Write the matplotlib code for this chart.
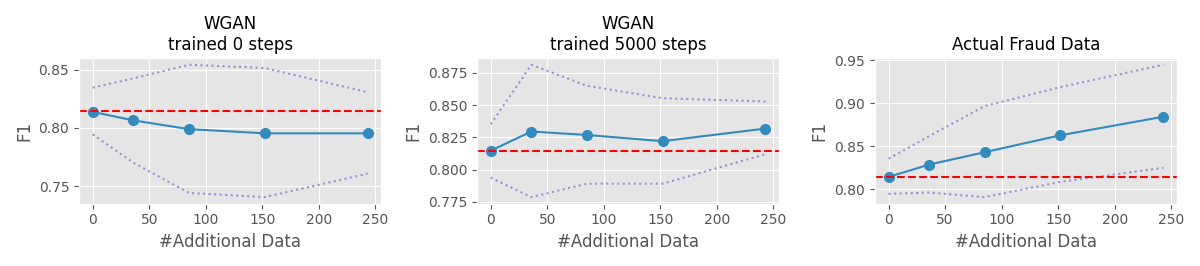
import numpy as np
import matplotlib
matplotlib.use("Agg")
import matplotlib.pyplot as plt

plt.style.use('ggplot')

# number of additional samples
n_add = [0, 36, 85, 152, 243]
baseline_f1 = 0.8143

titles = ['WGAN\ntrained 0 steps', 'WGAN\ntrained 5000 steps', 'Actual Fraud Data']

# mean F1 and upper / lower bands per panel
f1_wgan0 = [0.8137, 0.8064, 0.7989, 0.7953, 0.7953]
upper_wgan0 = [0.8346, 0.8425, 0.8542, 0.8514, 0.8307]
lower_wgan0 = [0.7944, 0.7700, 0.7441, 0.7405, 0.7606]

f1_wgan5000 = [0.8146, 0.8295, 0.8268, 0.8220, 0.8318]
upper_wgan5000 = [0.8351, 0.8813, 0.8650, 0.8553, 0.8528]
lower_wgan5000 = [0.7937, 0.7786, 0.7890, 0.7890, 0.8119]

f1_real = [0.8144, 0.8288, 0.8432, 0.8629, 0.8845]
upper_real = [0.8356, 0.8620, 0.8970, 0.9190, 0.9450]
lower_real = [0.7947, 0.7962, 0.7909, 0.8087, 0.8250]

means = [f1_wgan0, f1_wgan5000, f1_real]
uppers = [upper_wgan0, upper_wgan5000, upper_real]
lowers = [lower_wgan0, lower_wgan5000, lower_real]

fig, axes = plt.subplots(1, 3, figsize=(12, 2.66), dpi=100)

for ax, title, m, up, lo in zip(axes, titles, means, uppers, lowers):
    ax.plot(n_add, m, 'o-', color='#348ABD', markersize=7)
    ax.plot(n_add, up, ':', color='#988ED5')
    ax.plot(n_add, lo, ':', color='#988ED5')
    ax.axhline(y=baseline_f1, color='red', linestyle='--')
    ax.set_title(title, fontsize=12)
    ax.set_xlabel('#Additional Data')
    ax.set_ylabel('F1')
    ax.set_xticks([0, 50, 100, 150, 200, 250])

axes[0].set_yticks([0.75, 0.80, 0.85])
axes[1].set_yticks([0.775, 0.800, 0.825, 0.850, 0.875])
axes[2].set_yticks([0.80, 0.85, 0.90, 0.95])

plt.tight_layout()
plt.savefig('out.png')
